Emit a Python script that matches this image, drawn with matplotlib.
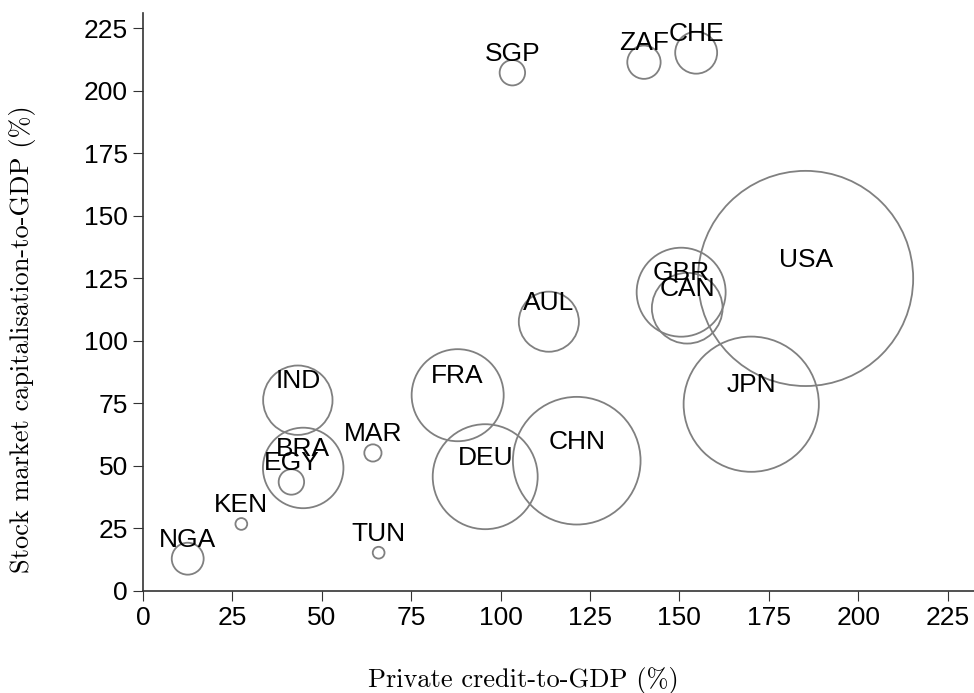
import numpy as np
import matplotlib
matplotlib.use('Agg')
import matplotlib.pyplot as plt

# country codes, private credit (% GDP), market cap (% GDP), bubble weight
countries = ['NGA', 'KEN', 'EGY', 'BRA', 'IND', 'MAR', 'TUN', 'FRA', 'DEU',
             'CHN', 'AUL', 'SGP', 'ZAF', 'CHE', 'GBR', 'CAN', 'USA', 'JPN']
credit = [12.5, 27.5, 41.5, 44.8, 43.3, 64.3, 65.9, 88.0, 95.7,
          121.3, 113.5, 103.3, 140.1, 154.7, 150.5, 152.2, 185.3, 170.1]
mktcap = [12.8, 26.7, 43.5, 49.1, 76.2, 55.1, 15.2, 78.2, 45.6,
          52.0, 107.6, 207.2, 211.4, 215.2, 119.4, 113.0, 124.9, 74.6]
weight = [2.2, 0.3, 1.4, 14.0, 10.4, 0.64, 0.3, 18.3, 23.8,
          35.2, 7.8, 1.4, 2.4, 3.8, 17.1, 10.8, 100.0, 39.5]

xticks = [0, 25, 50, 75, 100, 125, 150, 175, 200, 225]
yticks = [0, 25, 50, 75, 100, 125, 150, 175, 200, 225]

sans = 'Liberation Sans'
serif = 'cmr10'


def plotBubbles(ax):
    sizes = np.array(weight) * 240.0
    ax.scatter(credit, mktcap, s=sizes, facecolors='none',
               edgecolors='#808080', linewidths=1.3, zorder=2, clip_on=False)
    for name, x, y in zip(countries, credit, mktcap):
        ax.annotate(name, (x, y), xytext=(0, 8.5), textcoords='offset points',
                    ha='center', va='baseline', fontsize=19, family=sans,
                    color='black', zorder=3)


fig = plt.figure(figsize=(9.74, 6.93), dpi=100)
ax = fig.add_axes([143 / 974, 1 - 590.7 / 693, 1 - 143 / 974, (590.7 - 12.7) / 693])

plotBubbles(ax)

ax.set_xlim(0, 232.4)
ax.set_ylim(0, 231.2)
ax.set_xticks(xticks)
ax.set_yticks(yticks)
for lab in ax.get_xticklabels() + ax.get_yticklabels():
    lab.set_fontfamily(sans)
    lab.set_fontsize(19)
ax.tick_params(direction='out', length=7, width=0.8, color='#333333', pad=4)

for side in ['top', 'right']:
    ax.spines[side].set_visible(False)
for side in ['left', 'bottom']:
    ax.spines[side].set_color('#333333')
    ax.spines[side].set_linewidth(1.2)

fig.text(523 / 974, 1 - 687 / 693, 'Private credit-to-GDP (%)', family=serif,
         fontsize=19, ha='center', va='baseline')
fig.text(23 / 974, 1 - 339.5 / 693, 'Stock market capitalisation-to-GDP (%)',
         family=serif, fontsize=19, rotation=90, ha='center', va='center')

fig.savefig('out.png', dpi=100)
